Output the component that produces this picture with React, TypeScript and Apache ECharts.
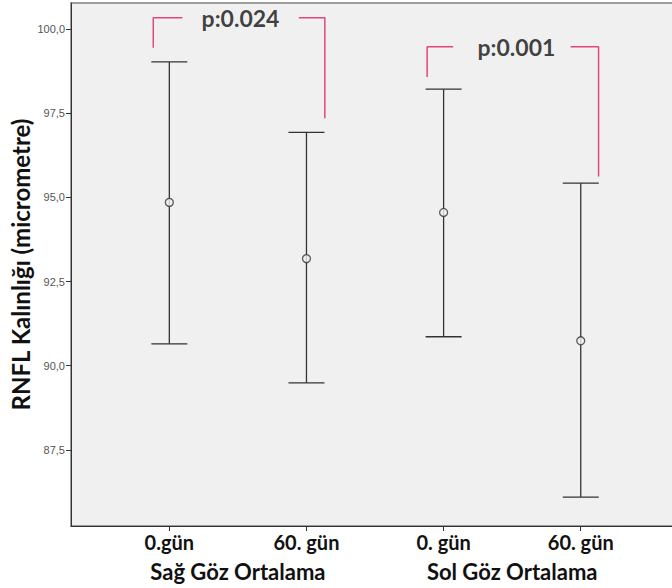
import React, { useEffect, useRef } from "react";
import * as echarts from "echarts";

const categories = ["0.gün", "60. gün", "0. gün", "60. gün"];
const groups = ["Sağ Göz Ortalama", "Sol Göz Ortalama"];
const positions = [1, 2, 3, 4];
const groupPositions = [1.5, 3.5];
const means = [94.85, 93.18, 94.55, 90.74];
const lower = [90.65, 89.49, 90.86, 86.1];
const upper = [99.02, 96.93, 98.21, 95.42];
const yTicks = [87.5, 90, 92.5, 95, 97.5, 100];

const bracket1Left = [[0.883, 99.44], [0.883, 100.33], [1.095, 100.33]];
const bracket1Right = [[1.944, 100.33], [2.134, 100.33], [2.134, 97.35]];
const bracket2Left = [[2.88, 98.57], [2.88, 99.47], [3.07, 99.47]];
const bracket2Right = [[3.926, 99.47], [4.13, 99.47], [4.13, 95.62]];
const pLabels = [
  { text: "p:0.024", x: 1.519, y: 100.33 },
  { text: "p:0.001", x: 3.531, y: 99.47 },
];

const X_MIN = 0.283;
const X_MAX = 4.68;
const Y_MIN = 85.24;
const Y_MAX = 100.77;
const RED = "#e4457a";
const DARK = "#333333";
const TEXT = "#111111";
const FONT = "Lato";

export default function App() {
  const ref = useRef<HTMLDivElement>(null);
  useEffect(() => {
    if (!ref.current) return;
    const chart = echarts.init(ref.current, undefined, { renderer: "svg" });
    const bracketSeries = [bracket1Left, bracket1Right, bracket2Left, bracket2Right].map((d) => ({
      type: "line",
      data: d,
      symbol: "none",
      lineStyle: { color: RED, width: 1.5 },
      silent: true,
      z: 3,
    }));
    chart.setOption({
      animation: false,
      backgroundColor: "#ffffff",
      grid: {
        left: 71,
        right: -2,
        top: 3,
        bottom: 62,
        containLabel: false,
        outerBoundsMode: "none",
        show: true,
        backgroundColor: "#f0f0f0",
        borderColor: "#808080",
        borderWidth: 1.5,
      },
      xAxis: [
        {
          type: "value",
          min: X_MIN,
          max: X_MAX,
          splitLine: { show: false },
          axisLine: { show: true, lineStyle: { color: DARK, width: 1 } },
          axisTick: { show: true, customValues: positions, length: 5, lineStyle: { color: DARK } },
          axisLabel: {
            customValues: positions,
            formatter: (v: number) => categories[Math.round(v) - 1],
            fontFamily: FONT,
            fontWeight: "bold",
            fontSize: 20,
            color: TEXT,
            margin: 6,
          },
        },
        {
          type: "value",
          min: X_MIN,
          max: X_MAX,
          position: "bottom",
          offset: 28,
          splitLine: { show: false },
          axisLine: { show: false },
          axisTick: { show: false },
          axisLabel: {
            customValues: groupPositions,
            formatter: (v: number) => groups[v < 2.5 ? 0 : 1],
            fontFamily: FONT,
            fontWeight: "bold",
            fontSize: 22,
            color: TEXT,
            margin: 6,
          },
        },
      ],
      yAxis: {
        type: "value",
        min: Y_MIN,
        max: Y_MAX,
        name: "RNFL Kalınlığı (micrometre)",
        nameLocation: "middle",
        nameGap: 39,
        nameMoveOverlap: false,
        nameTextStyle: { fontFamily: FONT, fontWeight: "bold", fontSize: 24, color: TEXT },
        splitLine: { show: false },
        axisLine: { show: true, lineStyle: { color: DARK, width: 1 } },
        axisTick: { show: true, customValues: yTicks, length: 5, lineStyle: { color: DARK } },
        axisLabel: {
          customValues: yTicks,
          formatter: (v: number) => v.toFixed(1).replace(".", ","),
          fontFamily: "Liberation Sans",
          fontSize: 11,
          color: "#555555",
          margin: 6,
        },
      },
      series: [
        {
          type: "custom",
          data: positions.map((p, i) => [p, lower[i], upper[i]]),
          renderItem: (params: any, api: any) => {
            const x = api.value(0);
            const lo = api.coord([x, api.value(1)]);
            const hi = api.coord([x, api.value(2)]);
            const hw = 18;
            const style = { stroke: DARK, lineWidth: 1.3 };
            return {
              type: "group",
              children: [
                { type: "line", shape: { x1: lo[0], y1: lo[1], x2: hi[0], y2: hi[1] }, style },
                { type: "line", shape: { x1: hi[0] - hw, y1: hi[1], x2: hi[0] + hw, y2: hi[1] }, style },
                { type: "line", shape: { x1: lo[0] - hw, y1: lo[1], x2: lo[0] + hw, y2: lo[1] }, style },
              ],
            };
          },
          z: 2,
        },
        {
          type: "scatter",
          data: positions.map((p, i) => [p, means[i]]),
          symbol: "circle",
          symbolSize: 8,
          itemStyle: { color: "#f0f0f0", borderColor: DARK, borderWidth: 1.3 },
          z: 4,
        },
        ...bracketSeries,
        {
          type: "scatter",
          data: pLabels.map((p) => ({ value: [p.x, p.y], name: p.text })),
          symbolSize: 0,
          label: {
            show: true,
            position: "inside",
            formatter: (p: any) => p.name,
            fontFamily: FONT,
            fontWeight: "bold",
            fontSize: 23,
            color: TEXT,
          },
          z: 5,
        },
      ],
    });
    return () => chart.dispose();
  }, []);
  return (
    <div
      ref={ref}
      style={{ position: "absolute", left: 0, top: 0, width: 672, height: 588 }}
    />
  );
}
